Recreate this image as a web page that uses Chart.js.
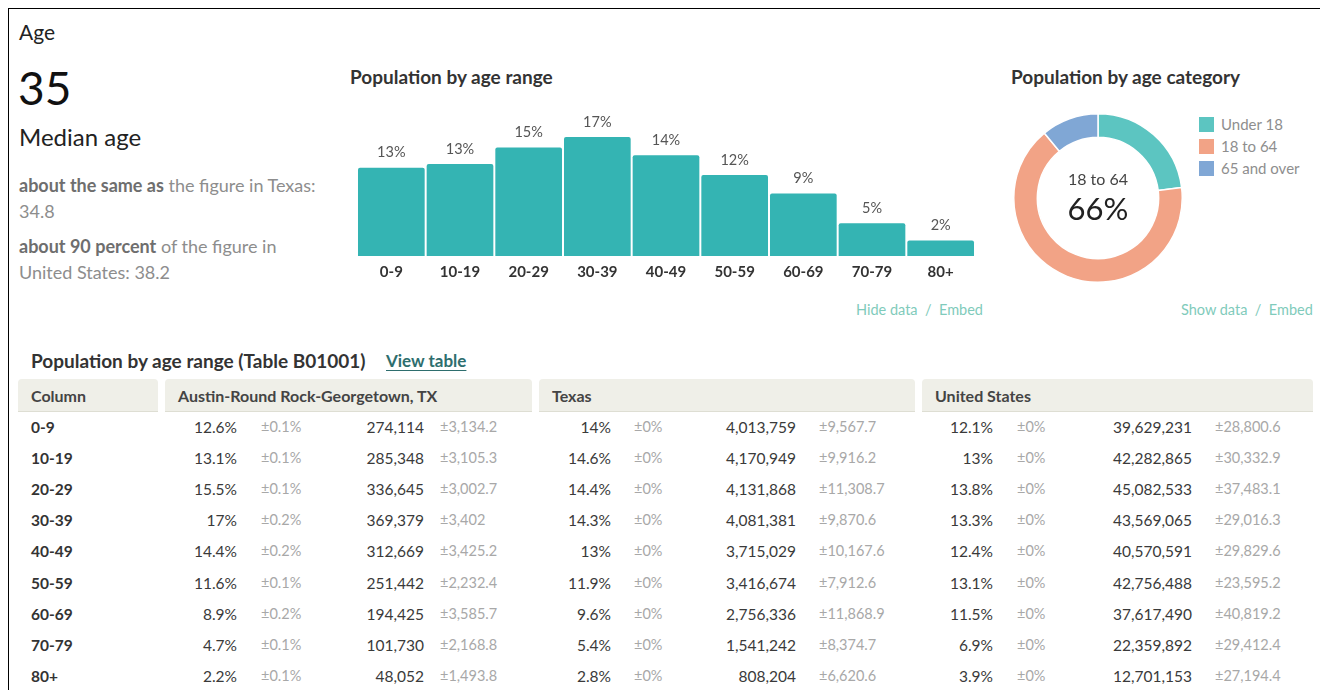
<!DOCTYPE html>
<html>
<head>
<meta charset="utf-8">
<script src="https://cdn.jsdelivr.net/npm/chart.js@4.4.1/dist/chart.umd.min.js"></script>
<style>
  html, body { margin: 0; padding: 0; background: #fff; }
  body { width: 1320px; height: 690px; position: relative; overflow: hidden; font-family: Lato, "Open Sans", sans-serif; color: #333; }
  .frame { position: absolute; left: 8px; top: 8px; right: -2px; bottom: -2px; border-top: 1px solid #000; border-left: 1px solid #000; }
  .abs { position: absolute; white-space: nowrap; }
  .t-age { left: 19px; top: 19px; font-size: 21px; color: #222; }
  .t-median { left: 18px; top: 60px; font-size: 46px; line-height: 56px; color: #111; }
  .t-median-lbl { left: 19px; top: 122px; font-size: 24px; color: #222; }
  .compare { left: 19px; font-size: 18px; line-height: 26px; color: #8d8d8d; }
  .compare b { color: #6e6e6e; font-weight: bold; }
  .title { font-size: 19px; font-weight: bold; color: #333; }
  .links { font-size: 14.5px; color: #7fcbbb; }
  .legend-row { left: 1199px; font-size: 15px; color: #8e8e8e; }
  .legend-row i { display: inline-block; width: 15px; height: 15px; vertical-align: -2px; margin-right: 7px; }
  .center1 { left: 1048px; width: 100px; text-align: center; top: 169px; font-size: 16px; color: #444; }
  .center2 { left: 1048px; width: 100px; text-align: center; top: 189px; font-size: 31px; color: #222; }
  .hdr { position: absolute; top: 379px; height: 33px; background: #efefe8; border-bottom: 1px solid #deded3; border-radius: 4px 4px 0 0; font-size: 16px; font-weight: bold; color: #444; line-height: 33px; padding-left: 13px; box-sizing: border-box; }
  .cell { position: absolute; font-size: 15.5px; color: #3a3a3a; white-space: nowrap; line-height: 18px; }
  .cell.r { text-align: right; }
  .cell.moe { font-size: 14.5px; color: #a8a8a8; }
  .cell.lbl { font-weight: bold; color: #333; }
</style>
</head>
<body>
<div class="frame"></div>

<div class="abs t-age">Age</div>
<div class="abs t-median">35</div>
<div class="abs t-median-lbl">Median age</div>
<div class="abs compare" style="top:172px"><b>about the same as</b> the figure in Texas:<br>34.8</div>
<div class="abs compare" style="top:233px"><b>about 90 percent</b> of the figure in<br>United States: 38.2</div>

<div class="abs title" style="left:350px; top:65px">Population by age range</div>
<canvas id="bars" class="abs" style="left:357px; top:100px" width="618" height="186"></canvas>
<div class="abs links" style="left:856px; top:301px">Hide data&nbsp;&nbsp;/&nbsp;&nbsp;Embed</div>

<div class="abs title" style="left:1011px; top:65px">Population by age category</div>
<canvas id="donut" class="abs" style="left:1013px; top:113px" width="170" height="170"></canvas>
<div class="abs center1">18 to 64</div>
<div class="abs center2" id="centerPct"></div>
<div id="legend"></div>
<div class="abs links" style="left:1181px; top:301px">Show data&nbsp;&nbsp;/&nbsp;&nbsp;Embed</div>

<div class="abs" style="left:31px; top:349px; font-size:19px; font-weight:bold; color:#333">Population by age range (Table B01001)</div>
<div class="abs" style="left:386px; top:350px; font-size:17px; font-weight:bold; color:#2e6e6e; text-decoration:underline; text-underline-offset:3px">View table</div>

<div class="hdr" style="left:18px; width:140px">Column</div>
<div class="hdr" style="left:165px; width:367px">Austin-Round Rock-Georgetown, TX</div>
<div class="hdr" style="left:539px; width:376px">Texas</div>
<div class="hdr" style="left:922px; width:391px">United States</div>
<div id="rows"></div>

<script>
// age brackets shared by the bar chart and the table
const ageRanges = ['0-9', '10-19', '20-29', '30-39', '40-49', '50-59', '60-69', '70-79', '80+'];
const agePct = [12.61, 13.13, 15.49, 16.99, 14.38, 11.57, 8.94, 4.68, 2.21];

const ageCategories = ['Under 18', '18 to 64', '65 and over'];
const ageCategoryPct = [23, 66, 11];
const categoryColors = ['#5cc5c1', '#f2a386', '#80a7d5'];
const barColor = '#34b4b3';

// table B01001 columns: percent, percent moe, count, count moe
const austinPct = ['12.6%', '13.1%', '15.5%', '17%', '14.4%', '11.6%', '8.9%', '4.7%', '2.2%'];
const austinPctMoe = ['±0.1%', '±0.1%', '±0.1%', '±0.2%', '±0.2%', '±0.1%', '±0.2%', '±0.1%', '±0.1%'];
const austinCount = ['274,114', '285,348', '336,645', '369,379', '312,669', '251,442', '194,425', '101,730', '48,052'];
const austinCountMoe = ['±3,134.2', '±3,105.3', '±3,002.7', '±3,402', '±3,425.2', '±2,232.4', '±3,585.7', '±2,168.8', '±1,493.8'];

const texasPct = ['14%', '14.6%', '14.4%', '14.3%', '13%', '11.9%', '9.6%', '5.4%', '2.8%'];
const texasPctMoe = ['±0%', '±0%', '±0%', '±0%', '±0%', '±0%', '±0%', '±0%', '±0%'];
const texasCount = ['4,013,759', '4,170,949', '4,131,868', '4,081,381', '3,715,029', '3,416,674', '2,756,336', '1,541,242', '808,204'];
const texasCountMoe = ['±9,567.7', '±9,916.2', '±11,308.7', '±9,870.6', '±10,167.6', '±7,912.6', '±11,868.9', '±8,374.7', '±6,620.6'];

const usPct = ['12.1%', '13%', '13.8%', '13.3%', '12.4%', '13.1%', '11.5%', '6.9%', '3.9%'];
const usPctMoe = ['±0%', '±0%', '±0%', '±0%', '±0%', '±0%', '±0%', '±0%', '±0%'];
const usCount = ['39,629,231', '42,282,865', '45,082,533', '43,569,065', '40,570,591', '42,756,488', '37,617,490', '22,359,892', '12,701,153'];
const usCountMoe = ['±28,800.6', '±30,332.9', '±37,483.1', '±29,016.3', '±29,829.6', '±23,595.2', '±40,819.2', '±29,412.4', '±27,194.4'];

Chart.defaults.font.family = 'Lato, "Open Sans", sans-serif';

// value labels above each bar
const barLabels = {
    id: 'barLabels',
    afterDatasetsDraw(chart) {
        const ctx = chart.ctx;
        const meta = chart.getDatasetMeta(0);
        ctx.save();
        ctx.font = '14.5px Lato';
        ctx.fillStyle = '#555';
        ctx.textAlign = 'center';
        ctx.textBaseline = 'middle';
        meta.data.forEach((bar, i) => {
            ctx.fillText(Math.round(agePct[i]) + '%', bar.x, bar.y - 15);
        });
        ctx.restore();
    }
};

new Chart(document.getElementById('bars'), {
    type: 'bar',
    data: {
        labels: ageRanges,
        datasets: [{
            data: agePct,
            backgroundColor: barColor,
            borderRadius: 2,
            borderSkipped: 'bottom',
            categoryPercentage: 1,
            barPercentage: 0.971
        }]
    },
    options: {
        responsive: false,
        animation: false,
        layout: { padding: { top: 16, left: 0, right: 0, bottom: 0 } },
        plugins: { legend: { display: false }, tooltip: { enabled: false } },
        scales: {
            y: { display: false, min: 0, max: 20 },
            x: {
                grid: { display: false, drawTicks: false },
                border: { display: false },
                ticks: { color: '#333', font: { size: 15, weight: 'bold' }, padding: 7 },
                afterFit(scale) { scale.height = 30; }
            }
        }
    },
    plugins: [barLabels]
});

new Chart(document.getElementById('donut'), {
    type: 'doughnut',
    data: {
        labels: ageCategories,
        datasets: [{
            data: ageCategoryPct,
            backgroundColor: categoryColors,
            borderColor: '#fff',
            borderWidth: 1.5
        }]
    },
    options: {
        responsive: false,
        animation: false,
        cutout: '72%',
        plugins: { legend: { display: false }, tooltip: { enabled: false } }
    }
});

document.getElementById('centerPct').textContent = ageCategoryPct[1] + '%';

// legend beside the donut
const legend = document.getElementById('legend');
ageCategories.forEach((name, i) => {
    const row = document.createElement('div');
    row.className = 'abs legend-row';
    row.style.top = (115 + i * 22) + 'px';
    row.innerHTML = `<i style="background:${categoryColors[i]}"></i>${name}`;
    legend.appendChild(row);
});

// table body
const rowsEl = document.getElementById('rows');
function cell(text, cls, x, y, alignRight) {
    const el = document.createElement('div');
    el.className = 'cell ' + cls + (alignRight ? ' r' : '');
    el.textContent = text;
    el.style.top = (y - 9) + 'px';
    if (alignRight) { el.style.right = (1320 - x) + 'px'; } else { el.style.left = x + 'px'; }
    rowsEl.appendChild(el);
}
const groups = [
    { pct: austinPct, pctMoe: austinPctMoe, count: austinCount, countMoe: austinCountMoe, x: [237, 261, 424, 440] },
    { pct: texasPct, pctMoe: texasPctMoe, count: texasCount, countMoe: texasCountMoe, x: [611, 634, 796, 819] },
    { pct: usPct, pctMoe: usPctMoe, count: usCount, countMoe: usCountMoe, x: [993, 1017, 1192, 1215] }
];
ageRanges.forEach((range, i) => {
    const y = 427 + i * 31.1;
    cell(range, 'lbl', 31, y, false);
    groups.forEach(g => {
        cell(g.pct[i], '', g.x[0], y, true);
        cell(g.pctMoe[i], 'moe', g.x[1], y, false);
        cell(g.count[i], '', g.x[2], y, true);
        cell(g.countMoe[i], 'moe', g.x[3], y, false);
    });
});
</script>
</body>
</html>
